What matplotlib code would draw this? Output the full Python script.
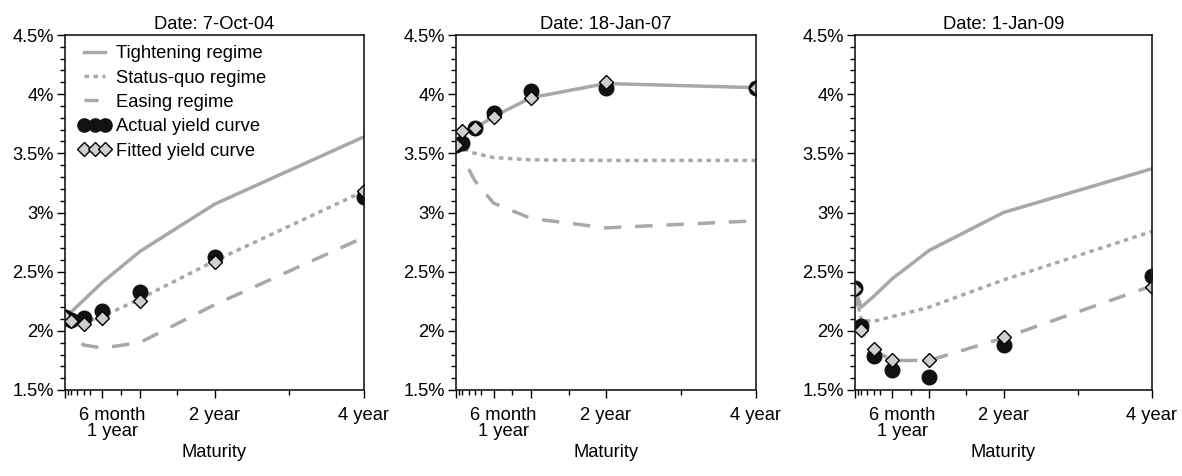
import numpy as np
import matplotlib.pyplot as plt
from matplotlib.lines import Line2D
from matplotlib.ticker import FixedLocator, FuncFormatter

plt.rcParams['font.family'] = ['Liberation Sans', 'DejaVu Sans']

# maturities in months
maturity = [0, 1, 3, 6, 12, 24, 48]
nan = np.nan

dates = ["Date: 7-Oct-04", "Date: 18-Jan-07", "Date: 1-Jan-09"]

# yields in percent, one list per series and panel
tight1 = [2.12, 2.16, 2.26, 2.41, 2.67, 3.07, 3.64]
sq1 = [2.12, 2.08, 2.07, 2.12, 2.27, 2.59, 3.18]
ease1 = [nan, 1.97, 1.88, 1.855, 1.90, 2.22, 2.79]
actual1 = [2.12, 2.09, 2.11, 2.17, 2.33, 2.62, 3.13]
fitted1 = [2.12, 2.08, 2.06, 2.11, 2.25, 2.58, 3.18]

tight2 = [3.57, 3.69, 3.71, 3.81, 3.97, 4.09, 4.055]
sq2 = [3.57, 3.54, 3.50, 3.465, 3.445, 3.44, 3.44]
ease2 = [nan, 3.47, 3.27, 3.08, 2.95, 2.87, 2.93]
actual2 = [3.57, 3.585, 3.71, 3.845, 4.03, 4.05, 4.055]
fitted2 = [3.57, 3.69, 3.71, 3.81, 3.97, 4.10, 4.055]

tight3 = [2.35, 2.20, 2.29, 2.44, 2.68, 3.00, 3.37]
sq3 = [2.35, 2.09, 2.08, 2.12, 2.20, 2.43, 2.84]
ease3 = [2.35, 2.00, 1.84, 1.75, 1.75, 1.94, 2.38]
actual3 = [2.36, 2.04, 1.79, 1.67, 1.61, 1.88, 2.46]
fitted3 = [2.35, 2.01, 1.85, 1.75, 1.75, 1.945, 2.37]

panels = [
    (tight1, sq1, ease1, actual1, fitted1),
    (tight2, sq2, ease2, actual2, fitted2),
    (tight3, sq3, ease3, actual3, fitted3),
]

major_x = [0, 6, 12, 24, 48]
minor_x = [0.5, 1, 2, 3, 4, 9, 18, 36]

gray = '#a8a8a8'
dot_style = (0, (1.3, 1.3))
dash_style = (5, (5, 4))
fs = 13.2

fig = plt.figure(figsize=(11.82, 4.76), dpi=100)
lefts = [65, 456, 855]
widths = [299, 300, 297]

for i, (tight, sq, ease, actual, fitted) in enumerate(panels):
    ax = fig.add_axes([lefts[i] / 1182, 86 / 476, widths[i] / 1182, 355 / 476])
    ax.plot(maturity, tight, color=gray, lw=2.5, solid_capstyle='butt')
    ax.plot(maturity, sq, color=gray, lw=2.5, linestyle=dot_style, dash_capstyle='butt')
    ax.plot(maturity, ease, color=gray, lw=2.5, linestyle=dash_style if i < 2 else (0, (5, 4)),
            dash_capstyle='butt')
    ax.plot(maturity, actual, 'o', color='#111111', ms=10.5, mec='#111111')
    ax.plot(maturity, fitted, 'D', color='#cfcfcf', ms=7.3, mec='black', mew=1)

    ax.set_xlim(0, 48)
    ax.set_ylim(1.5, 4.5)
    ax.xaxis.set_major_locator(FixedLocator(major_x))
    ax.xaxis.set_minor_locator(FixedLocator(minor_x))
    ax.set_xticklabels([])
    ax.yaxis.set_major_locator(FixedLocator(np.arange(1.5, 4.51, 0.5)))
    ax.yaxis.set_minor_locator(FixedLocator(np.arange(1.5, 4.51, 0.1)))
    ax.yaxis.set_major_formatter(FuncFormatter(lambda v, p: f"{v:g}%"))
    ax.tick_params(which='major', length=6, width=1, labelsize=fs, pad=2)
    ax.tick_params(which='minor', length=3.5, width=1)
    for s in ax.spines.values():
        s.set_linewidth(1.2)
        s.set_color('#1a1a1a')

    tr = ax.get_xaxis_transform()
    ax.text(7.6, -0.048, "6 month", transform=tr, ha='center', va='top', fontsize=fs)
    ax.text(7.6, -0.092, "1 year", transform=tr, ha='center', va='top', fontsize=fs)
    ax.text(24, -0.048, "2 year", transform=tr, ha='center', va='top', fontsize=fs)
    ax.text(48, -0.048, "4 year", transform=tr, ha='center', va='top', fontsize=fs)
    ax.text(24, -0.152, "Maturity", transform=tr, ha='center', va='top', fontsize=fs)
    ax.set_title(dates[i], fontsize=fs, pad=4)

    if i == 0:
        handles = [
            Line2D([], [], color=gray, lw=2.5),
            Line2D([], [], color=gray, lw=2.5, linestyle=dot_style),
            Line2D([], [], color=gray, lw=2.5, linestyle=(0, (4, 3))),
            Line2D([], [], color='#111111', marker='o', ms=9.5, linestyle='none'),
            Line2D([], [], color='#cfcfcf', marker='D', ms=7.2, mec='black', linestyle='none'),
        ]
        labels = ["Tightening regime", "Status-quo regime", "Easing regime",
                  "Actual yield curve", "Fitted yield curve"]
        ax.legend(handles, labels, loc='upper left', frameon=False, numpoints=3,
                  fontsize=fs, handlelength=1.75, handletextpad=0.3,
                  labelspacing=0.4, borderaxespad=0.1, bbox_to_anchor=(0.015, 0.997))

fig.savefig("out.png", dpi=100)
